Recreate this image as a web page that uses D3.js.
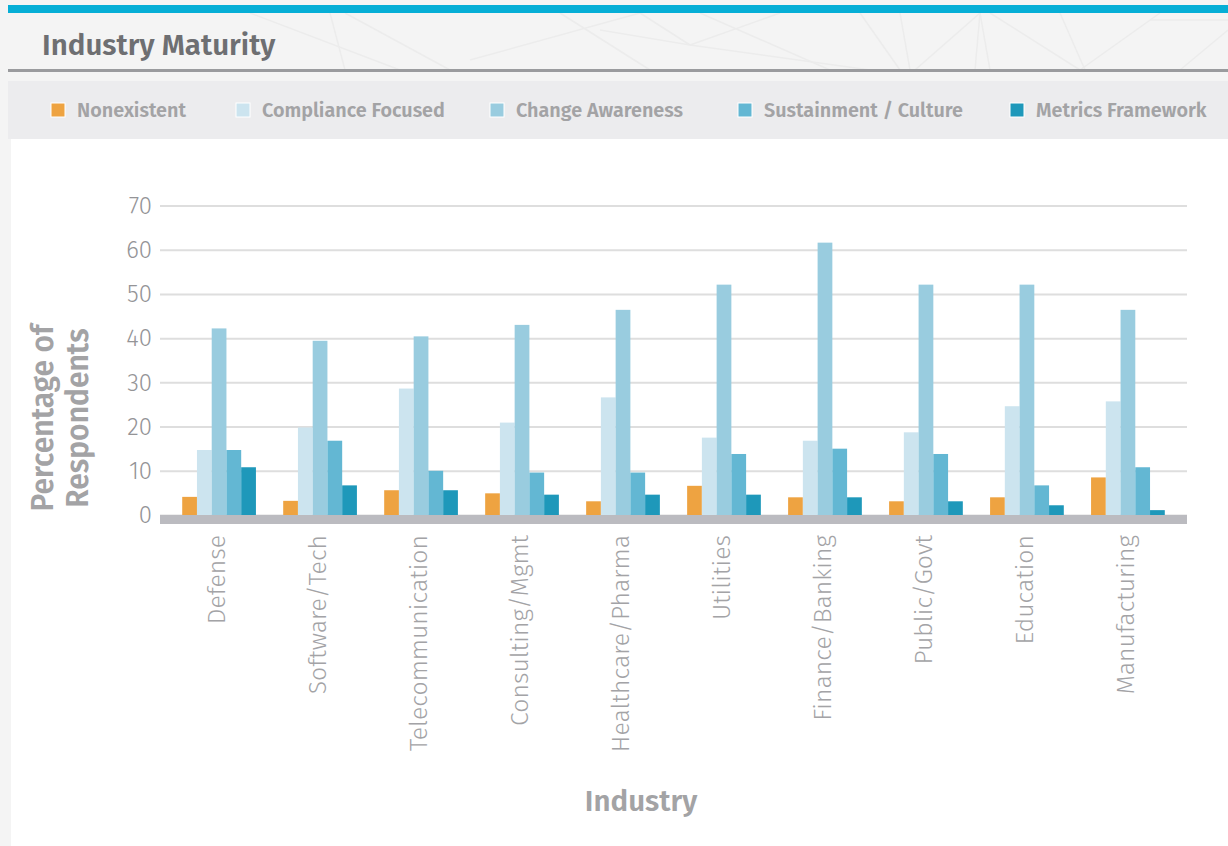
<!DOCTYPE html>
<html>
<head>
<meta charset="utf-8">
<script src="https://cdn.jsdelivr.net/npm/d3@7"></script>
<style>
  html, body { margin: 0; padding: 0; background: #f4f4f4; }
  svg { display: block; font-family: 'Fira Sans', Roboto, 'Open Sans', sans-serif; }
</style>
</head>
<body>
<svg id="chart" width="1228" height="846"></svg>
<script>
// Industry maturity survey: share of respondents (%) per maturity level
const industries = ["Defense", "Software/Tech", "Telecommunication", "Consulting/Mgmt",
  "Healthcare/Pharma", "Utilities", "Finance/Banking", "Public/Govt", "Education", "Manufacturing"];
const levels = ["Nonexistent", "Compliance Focused", "Change Awareness", "Sustainment / Culture", "Metrics Framework"];
const nonexistent  = [4.1, 3.2, 5.6, 4.9, 3.1, 6.6, 4.0, 3.1, 4.0, 8.5];
const compliance   = [14.7, 19.8, 28.6, 20.9, 26.6, 17.5, 16.8, 18.7, 24.6, 25.7];
const change       = [42.2, 39.4, 40.4, 43.0, 46.4, 52.1, 61.6, 52.1, 52.1, 46.4];
const sustainment  = [14.7, 16.8, 10.0, 9.6, 9.6, 13.8, 15.0, 13.8, 6.7, 10.8];
const metrics      = [10.8, 6.7, 5.6, 4.6, 4.6, 4.6, 4.0, 3.1, 2.2, 1.1];
const yTicks = [0, 10, 20, 30, 40, 50, 60, 70];
const colors = ["#eea341", "#cce4ef", "#99ccdf", "#63b7d3", "#1e98ba"];

const seriesValues = [nonexistent, compliance, change, sustainment, metrics];
const rows = industries.map((name, i) => ({
  name,
  values: levels.map((lvl, j) => ({ level: lvl, value: seriesValues[j][i] }))
}));

const svg = d3.select("#chart");
const textGray = "#a3a3a5";

// page frame: top accent, header, legend band, white plot panel
svg.append("rect").attr("x", 0).attr("y", 0).attr("width", 1228).attr("height", 846).attr("fill", "#f4f4f4");

// faint geometric header texture
const deco = [[330,13,345,70],[345,13,450,70],[470,60,640,13],[560,13,650,70],[640,13,690,45],[690,45,870,70],
  [690,45,780,13],[700,13,830,70],[860,13,900,70],[900,13,910,70],[915,70,980,13],[980,13,975,70],[980,13,990,70],
  [990,13,1080,70],[1080,70,1160,13],[1060,13,1085,70],[1228,30,1180,70],[600,30,690,45],[1150,20,1228,20],[250,13,400,70]];
svg.append("g").selectAll("line").data(deco).join("line")
  .attr("x1", d => d[0]).attr("y1", d => d[1]).attr("x2", d => d[2]).attr("y2", d => d[3])
  .attr("stroke", "#ececec").attr("stroke-width", 1.5);

svg.append("rect").attr("x", 8).attr("y", 5).attr("width", 1220).attr("height", 8).attr("fill", "#06aed6");
svg.append("text").attr("x", 42).attr("y", 55).text("Industry Maturity")
  .attr("font-size", 29.5).attr("font-weight", 600).attr("fill", "#6e6f72");
svg.append("rect").attr("x", 8).attr("y", 69).attr("width", 1220).attr("height", 3).attr("fill", "#9a9b9e");
svg.append("rect").attr("x", 8).attr("y", 81).attr("width", 1220).attr("height", 58).attr("fill", "#ececee");
svg.append("rect").attr("x", 11).attr("y", 139).attr("width", 1217).attr("height", 707).attr("fill", "#ffffff");

// legend
const legendX = [51, 236, 490, 738, 1010];
const legend = svg.append("g").selectAll("g").data(levels).join("g")
  .attr("transform", (d, i) => `translate(${legendX[i]},103)`);
legend.append("rect").attr("width", 14).attr("height", 14).attr("y", 0)
  .attr("fill", (d, i) => colors[i]).attr("stroke", "#ffffff").attr("stroke-width", 1);
legend.append("text").attr("x", 26).attr("y", 14).text(d => d)
  .attr("font-size", 19.8).attr("font-weight", 600).attr("fill", textGray);

// scales
const plotLeft = 160, plotRight = 1187, plotTop = 205.5, plotBottom = 515;
const x0 = d3.scaleBand().domain(industries).range([plotLeft, plotRight]).paddingInner(0.27).paddingOuter(0.22);
const x1 = d3.scaleBand().domain(levels).range([0, x0.bandwidth()]);
const y = d3.scaleLinear().domain([0, 70]).range([plotBottom, plotTop]);

// horizontal gridlines + y labels
const yAxis = d3.axisLeft(y).tickValues(yTicks).tickSize(-(plotRight - plotLeft)).tickPadding(8);
const gy = svg.append("g").attr("transform", `translate(${plotLeft},0)`).call(yAxis);
gy.select(".domain").remove();
gy.selectAll(".tick line").attr("stroke", "#dedede").attr("stroke-width", 2);
gy.selectAll(".tick text").attr("font-size", 24).attr("font-weight", 300).attr("fill", "#949497")
  .attr("font-family", "'Fira Sans', Roboto, sans-serif");

// bars
const groups = svg.append("g").selectAll("g").data(rows).join("g")
  .attr("transform", d => `translate(${x0(d.name)},0)`);
groups.selectAll("rect").data(d => d.values).join("rect")
  .attr("x", d => x1(d.level)).attr("width", x1.bandwidth())
  .attr("y", d => y(d.value)).attr("height", d => y(0) - y(d.value))
  .attr("fill", (d, i) => colors[i]);

// baseline bar
svg.append("rect").attr("x", plotLeft).attr("y", plotBottom).attr("width", plotRight - plotLeft).attr("height", 9)
  .attr("fill", "#bbbbc0");

// x axis labels (rotated)
const xAxis = d3.axisBottom(x0).tickSize(0).tickPadding(0);
const gx = svg.append("g").attr("transform", `translate(0,${plotBottom + 20})`).call(xAxis);
gx.select(".domain").remove();
gx.selectAll(".tick text")
  .attr("transform", "rotate(-90)").attr("text-anchor", "end")
  .attr("x", 0).attr("y", 0).attr("dx", 0).attr("dy", 6)
  .attr("font-size", 24.8).attr("font-weight", 300).attr("fill", "#a3a3a6")
  .attr("font-family", "'Fira Sans', Roboto, sans-serif");

// axis titles
svg.append("text").attr("x", 641).attr("y", 811).attr("text-anchor", "middle").text("Industry")
  .attr("font-size", 29.5).attr("font-weight", 600).attr("fill", textGray);
const yTitle = svg.append("text").attr("transform", "translate(0,418) rotate(-90)")
  .attr("text-anchor", "middle").attr("font-size", 30).attr("font-weight", 600).attr("fill", textGray);
yTitle.append("tspan").attr("x", 0).attr("y", 53).text("Percentage of");
yTitle.append("tspan").attr("x", 0).attr("y", 88).text("Respondents");
</script>
</body>
</html>
